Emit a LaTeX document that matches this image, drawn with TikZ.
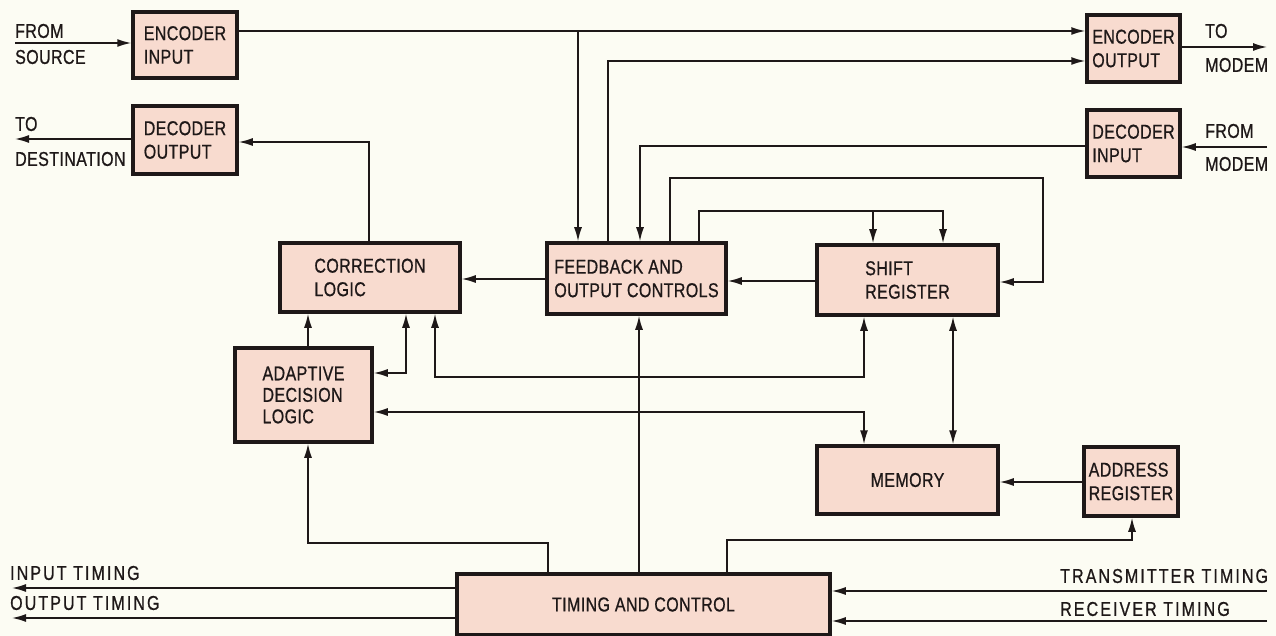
\documentclass[tikz,border=0pt]{standalone}
\usepackage{fontspec}
\setmainfont[FakeStretch=0.8,FakeBold=0.8,LetterSpace=2]{Liberation Sans}
\newfontfamily\widefont[FakeStretch=0.8,FakeBold=0.8,LetterSpace=10.5]{Liberation Sans}
\usetikzlibrary{arrows.meta}
\definecolor{bg}{RGB}{252,252,243}
\definecolor{boxfill}{RGB}{248,219,207}
\definecolor{ink}{RGB}{30,24,24}
\begin{document}
\begin{tikzpicture}[x=1pt,y=-1pt,
  blk/.style={draw=ink, fill=boxfill, line width=3.5pt, align=left,
    font=\fontsize{20}{23.5}\selectfont, text=ink, inner sep=0pt},
  lbl/.style={font=\fontsize{20}{23}\selectfont, text=ink, inner sep=0pt, anchor=west},
  wlbl/.style={font=\widefont\fontsize{20}{23}\selectfont, text=ink, inner sep=0pt, anchor=west},
  con/.style={draw=ink, line width=1.5pt},
  arr/.style={con, -{Latex[length=14pt,width=8pt]}},
  barr/.style={con, {Latex[length=14pt,width=8pt]}-{Latex[length=14pt,width=8pt]}}]
\fill[bg] (0,0) rectangle (1276,636);
\useasboundingbox (0,0) rectangle (1276,636);

% boxes
\node[blk, minimum width=104pt, minimum height=66pt] (ei) at (185,45) {ENCODER\\INPUT};
\node[blk, minimum width=104pt, minimum height=68pt] (dout) at (185,140) {DECODER\\OUTPUT};
\node[blk, minimum width=93pt, minimum height=67pt] (eo) at (1133.5,48.5) {ENCODER\\OUTPUT};
\node[blk, minimum width=93pt, minimum height=67pt] (di) at (1133.5,143.5) {DECODER\\INPUT};
\node[blk, minimum width=180pt, minimum height=69pt] (corr) at (370,277.5) {CORRECTION\\LOGIC};
\node[blk, minimum width=179pt, minimum height=71pt] (fb) at (636.5,278.5) {FEEDBACK AND\\OUTPUT CONTROLS};
\node[blk, minimum width=181pt, minimum height=70pt] (sr) at (907.5,280) {SHIFT\\REGISTER};
\node[blk, minimum width=137pt, minimum height=94pt, font=\fontsize{20}{21.5}\selectfont] (adl) at (303.5,395) {ADAPTIVE\\DECISION\\LOGIC};
\node[blk, minimum width=181pt, minimum height=68pt] (mem) at (907.5,480) {MEMORY};
\node[blk, minimum width=94pt, minimum height=69pt] (ar) at (1131,481.5) {ADDRESS\\REGISTER};
\node[blk, minimum width=373pt, minimum height=61pt] (tc) at (643.5,604.5) {TIMING AND CONTROL};

% free ends
\coordinate (src) at (15,43);
\coordinate (dst) at (15,139);
\coordinate (modout) at (1267,47);
\coordinate (modin) at (1267,147);
\coordinate (itim) at (12,588);
\coordinate (otim) at (12,618);
\coordinate (ttim) at (1267,591);
\coordinate (rtim) at (1267,621);

% external connectors
\draw[arr] (src) -- (ei.west |- src);
\draw[arr] (dout.west |- dst) -- (dst);
\draw[arr] (eo.east |- modout) -- (modout);
\draw[arr] (modin) -- (di.east |- modin);
\draw[arr] (tc.west |- itim) -- (itim);
\draw[arr] (tc.west |- otim) -- (otim);
\draw[arr] (ttim) -- (tc.east |- ttim);
\draw[arr] (rtim) -- (tc.east |- rtim);

% internal connectors
\draw[arr] (ei.east |- 0,31) -- (eo.west |- 0,31);
\draw[arr] (578,31) -- (fb.north -| 578,0);
\draw[arr] (fb.north -| 608,0) |- (eo.west |- 0,61);
\draw[arr] (di.west |- 0,146) -| (fb.north -| 640,0);
\draw[arr] (fb.north -| 670,0) |- (1043,178) |- (sr.east |- 0,282);
\draw[arr] (fb.north -| 699,0) |- (943,211) -- (sr.north -| 943,0);
\draw[arr] (873,211) -- (sr.north -| 873,0);
\draw[arr] (fb.west |- 0,279) -- (corr.east |- 0,279);
\draw[arr] (sr.west |- 0,281) -- (fb.east |- 0,281);
\draw[arr] (corr.north -| 369,0) |- (dout.east |- 0,142);
\draw[arr] (adl.north -| 308,0) -- (corr.south -| 308,0);
\draw[barr] (adl.east |- 0,373) -| (corr.south -| 406,0);
\draw[barr] (corr.south -| 435,0) |- (864,377) -- (sr.south -| 864,0);
\draw[barr] (adl.east |- 0,412) -| (mem.north -| 864,0);
\draw[barr] (sr.south -| 953,0) -- (mem.north -| 953,0);
\draw[arr] (ar.west |- 0,482) -- (mem.east |- 0,482);
\draw[arr] (tc.north -| 548,0) |- (308,543) -- (adl.south -| 308,0);
\draw[arr] (tc.north -| 639,0) -- (fb.south -| 639,0);
\draw[arr] (tc.north -| 727,0) |- (1132,540) -- (ar.south -| 1132,0);

% labels
\node[lbl] (lfrom) at (15,31) {FROM};
\node[lbl] (lsource) at (15,57) {SOURCE};
\node[lbl] (lto) at (15,124) {TO};
\node[lbl] (ldest) at (15,159) {DESTINATION};
\node[lbl] (rto) at (1205,31) {TO};
\node[lbl] (rmodem1) at (1205,65) {MODEM};
\node[lbl] (rfrom) at (1205,131) {FROM};
\node[lbl] (rmodem2) at (1205,164) {MODEM};
\node[wlbl] (linput) at (10,573) {INPUT TIMING};
\node[wlbl] (loutput) at (10,603) {OUTPUT TIMING};
\node[wlbl] (rtrans) at (1060,576) {TRANSMITTER TIMING};
\node[wlbl] (rrecv) at (1060,609) {RECEIVER TIMING};
\end{tikzpicture}
\end{document}
